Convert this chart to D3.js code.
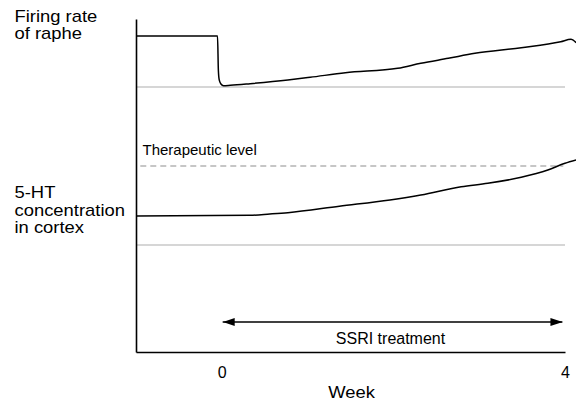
<!DOCTYPE html>
<html>
<head>
<meta charset="utf-8">
<script src="https://cdn.jsdelivr.net/npm/d3@7"></script>
<style>
  body { margin: 0; background: #fff; }
  text { font-family: "Liberation Sans", Arial, sans-serif; fill: #000; }
</style>
</head>
<body>
<div id="chart"></div>
<script>
// chart size
const width = 576;
const height = 402;

// data: weeks on x, levels relative to baseline (0) on y
const weekTicks = [0, 4];

// firing rate of raphe, 100 = pre-treatment level
const firingWeeks = [-1, -0.05, -0.04, -0.03, -0.01, 0.02, 0.1, 0.33, 0.77, 1.03, 1.44, 2.05, 2.32, 2.64, 2.95, 3.49, 3.95, 4.07, 4.13];
const firingRate  = [100, 100, 33, 14, 6, 2.5, 3.3, 6.5, 13.7, 19, 28, 36.7, 46.5, 56.3, 66.1, 77.1, 88.8, 93.5, 86.9];

// 5-HT in cortex, 100 = therapeutic level
const htWeeks = [-1, 0.33, 0.56, 0.77, 1.37, 1.96, 2.32, 2.79, 3.10, 3.49, 3.80, 4.0, 4.13];
const htLevel = [36.7, 37.6, 39.2, 40.9, 49.1, 57.0, 63.3, 73.8, 78.1, 85.7, 94.9, 103.4, 107.6];

const therapeuticLevel = 100;
const baselineWeeks = [-1, 4];
const dashWeeks = [-0.95, 3.98];
const treatmentWeeks = [0.01, 3.97];

const svg = d3.select("#chart")
  .append("svg")
  .attr("width", width)
  .attr("height", height);

// scales
const x = d3.scaleLinear().domain([-1, 4]).range([136, 565]);
const yFiring = d3.scaleLinear().domain([0, 100]).range([87, 36]);
const yHT = d3.scaleLinear().domain([0, 100]).range([245, 166]);
const yFrame = d3.scaleLinear().domain([0, 1]).range([352, 19]);

// gray baselines
svg.append("line")
  .attr("x1", x(baselineWeeks[0])).attr("x2", x(baselineWeeks[1]))
  .attr("y1", yFiring(0)).attr("y2", yFiring(0))
  .attr("stroke", "#c8c8c8").attr("stroke-width", 1.4);

svg.append("line")
  .attr("x1", x(baselineWeeks[0])).attr("x2", x(baselineWeeks[1]))
  .attr("y1", yHT(0)).attr("y2", yHT(0))
  .attr("stroke", "#c8c8c8").attr("stroke-width", 1.4);

// therapeutic level (dashed)
svg.append("line")
  .attr("x1", x(dashWeeks[0])).attr("x2", x(dashWeeks[1]))
  .attr("y1", yHT(therapeuticLevel)).attr("y2", yHT(therapeuticLevel))
  .attr("stroke", "#b4b4b4").attr("stroke-width", 1.3)
  .attr("stroke-dasharray", "6,4");

svg.append("text")
  .attr("x", 142.5)
  .attr("y", 155)
  .attr("font-size", "15px")
  .text("Therapeutic level");

// curves
const firingLine = d3.line()
  .x((d, i) => x(firingWeeks[i]))
  .y(d => yFiring(d))
  .curve(d3.curveMonotoneX);

svg.append("path")
  .datum(firingRate)
  .attr("d", firingLine)
  .attr("fill", "none")
  .attr("stroke", "#000")
  .attr("stroke-width", 1.5);

const htLine = d3.line()
  .x((d, i) => x(htWeeks[i]))
  .y(d => yHT(d))
  .curve(d3.curveMonotoneX);

svg.append("path")
  .datum(htLevel)
  .attr("d", htLine)
  .attr("fill", "none")
  .attr("stroke", "#000")
  .attr("stroke-width", 1.5);

// axes
const xAxis = svg.append("g")
  .attr("transform", `translate(0,${yFrame(0)})`)
  .call(d3.axisBottom(x).tickValues(weekTicks).tickSize(0).tickPadding(15).tickFormat(d3.format("d")));
xAxis.select(".domain").attr("stroke", "#000").attr("stroke-width", 1.6);
xAxis.selectAll("text")
  .attr("font-family", "Liberation Sans, Arial, sans-serif")
  .attr("font-size", "16px");

const yAxis = svg.append("g")
  .attr("transform", `translate(${x(-1)},0)`)
  .call(d3.axisLeft(yFrame).tickValues([]).tickSizeOuter(0));
yAxis.select(".domain").attr("stroke", "#000").attr("stroke-width", 1.6);

// treatment arrow
svg.append("defs").selectAll("marker")
  .data(["head"])
  .join("marker")
    .attr("id", "head")
    .attr("viewBox", "0 0 12 8")
    .attr("refX", 12).attr("refY", 4)
    .attr("markerWidth", 12).attr("markerHeight", 8)
    .attr("markerUnits", "userSpaceOnUse")
    .attr("orient", "auto-start-reverse")
  .append("path")
    .attr("d", "M0,0L12,4L0,8Z")
    .attr("fill", "#000");

const arrowY = 322;
svg.append("line")
  .attr("x1", x(treatmentWeeks[0])).attr("x2", x(treatmentWeeks[1]))
  .attr("y1", arrowY).attr("y2", arrowY)
  .attr("stroke", "#000").attr("stroke-width", 1.4)
  .attr("marker-start", "url(#head)")
  .attr("marker-end", "url(#head)");

svg.append("text")
  .attr("x", 390.5)
  .attr("y", 343.5)
  .attr("text-anchor", "middle")
  .attr("font-size", "16px")
  .text("SSRI treatment");

// axis title
svg.append("text")
  .attr("transform", "translate(351.5,398) scale(1.15,1)")
  .attr("text-anchor", "middle")
  .attr("font-size", "16px")
  .text("Week");

// left labels
const labels = [
  {lines: ["Firing rate", "of raphe"], y: 21.5},
  {lines: ["5-HT", "concentration", "in cortex"], y: 198.3}
];

labels.forEach(l => {
  const t = svg.append("text")
    .attr("transform", `translate(14.5,${l.y}) scale(1.15,1)`)
    .attr("font-size", "16px");
  t.selectAll("tspan")
    .data(l.lines)
    .join("tspan")
      .attr("x", 0)
      .attr("dy", (d, i) => i === 0 ? 0 : 17.6)
      .text(d => d);
});
</script>
</body>
</html>
